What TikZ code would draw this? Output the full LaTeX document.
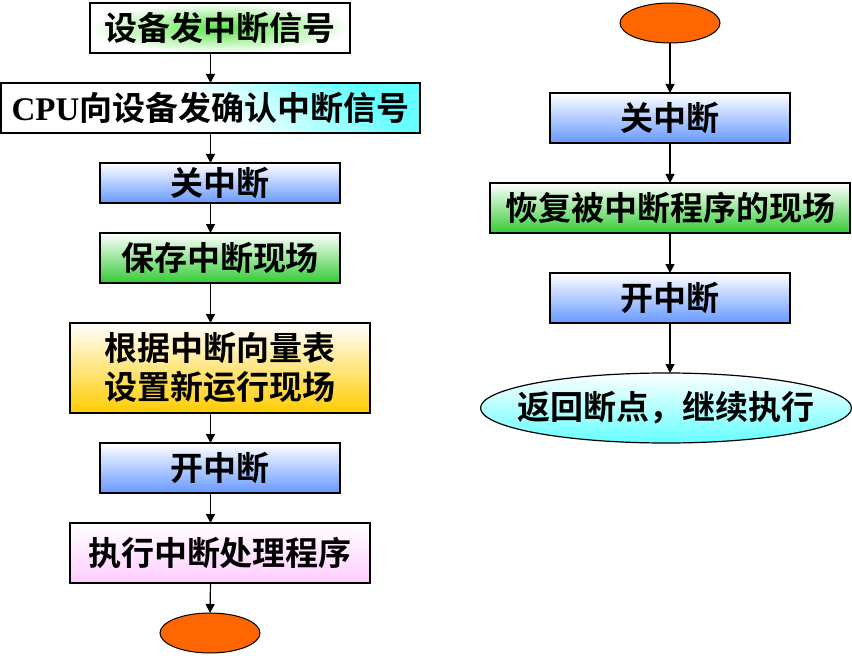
\documentclass[tikz,border=0pt]{standalone}
\usepackage{fontspec}
\setmainfont{Liberation Serif}
\newfontfamily\cjk{Noto Sans CJK SC}[BoldFont={Noto Sans CJK SC Bold}]
\usetikzlibrary{shapes.geometric, arrows.meta, positioning}
\usepackage{xcolor}
\definecolor{cBlue}{RGB}{102,153,255}
\definecolor{cGreen}{RGB}{51,204,51}
\definecolor{cGlow}{RGB}{90,230,70}
\definecolor{cCyan}{RGB}{102,255,255}
\definecolor{cYellow}{RGB}{255,204,0}
\definecolor{cPink}{RGB}{255,204,255}
\definecolor{cOrange}{RGB}{255,102,0}
\tikzset{
  basebox/.style={rectangle, draw=black, line width=1.2pt, inner sep=0pt,
                  outer sep=0pt, align=center,
                  font=\cjk\bfseries\fontsize{33}{39}\selectfont},
  glowbox/.style={basebox, inner color=cGlow, outer color=white},
  ackbox/.style={basebox, top color=cCyan, bottom color=white,
                 middle color=white, shading angle=-40},
  bluebox/.style={basebox, top color=white, bottom color=cBlue,
                  minimum width=240pt},
  greenbox/.style={basebox, top color=white, bottom color=cGreen},
  yellowbox/.style={basebox, top color=white, bottom color=cYellow},
  pinkbox/.style={basebox, top color=white, bottom color=cPink},
  endnode/.style={ellipse, draw=black, line width=1pt, fill=cOrange,
                  minimum width=100pt, minimum height=40pt, inner sep=0pt,
                  outer sep=0pt},
  retnode/.style={ellipse, draw=black, line width=1.2pt, top color=white,
                  bottom color=cCyan, minimum width=371pt, minimum height=70pt,
                  inner sep=0pt, outer sep=0pt,
                  font=\cjk\bfseries\fontsize{33}{39}\selectfont},
  arrow/.style={-{Triangle[length=9pt, width=9pt]}, line width=1.2pt}
}
\begin{document}
\begin{tikzpicture}[x=1pt, y=-1pt, node distance=30pt]
  \useasboundingbox (0,0) rectangle (852,658);

  \node[glowbox, minimum width=260pt, minimum height=50pt] (sig) at (220,28)
      {设备发中断信号};
  \node[ackbox, minimum width=419pt, minimum height=50pt, below=of sig,
        xshift=-9.5pt] (ack)
      {{\rmfamily CPU}向设备发确认中断信号};
  \node[bluebox, minimum height=40pt, below=of ack, xshift=9.5pt] (off1)
      {关中断};
  \node[greenbox, minimum width=240pt, minimum height=50pt, below=of off1] (save)
      {保存中断现场};
  \node[yellowbox, minimum width=300pt, minimum height=90pt, below=40pt of save] (vec)
      {根据中断向量表\\设置新运行现场};
  \node[bluebox, minimum height=50pt, below=of vec] (on1)
      {开中断};
  \node[pinkbox, minimum width=300pt, minimum height=60pt, below=of on1] (exec)
      {执行中断处理程序};
  \node[endnode, below=of exec, xshift=-10pt] (end1) {};

  \node[endnode] (start) at (670,23) {};
  \node[bluebox, minimum height=50pt, below=50pt of start] (off2)
      {关中断};
  \node[greenbox, minimum width=360pt, minimum height=50pt, below=40pt of off2] (rest)
      {恢复被中断程序的现场};
  \node[bluebox, minimum height=50pt, below=40pt of rest] (on2)
      {开中断};
  \node[retnode, below=50pt of on2, xshift=-4pt] (ret)
      {\makebox[0pt]{返回断点，继续执行}};

  \draw[arrow] (sig.south -| ack) -- (ack.north);
  \draw[arrow] (ack.south) -- (off1.north -| ack);
  \draw[arrow] (off1.south -| ack) -- (save.north -| ack);
  \draw[arrow] (save.south -| ack) -- (vec.north -| ack);
  \draw[arrow] (vec.south -| ack) -- (on1.north -| ack);
  \draw[arrow] (on1.south -| ack) -- (exec.north -| ack);
  \draw[arrow] (exec.south -| ack) -- (end1.north);

  \draw[arrow] (start.south) -- (off2.north);
  \draw[arrow] (off2.south) -- (rest.north);
  \draw[arrow] (rest.south) -- (on2.north);
  \draw[arrow] (on2.south) -- (ret.north -| on2);
\end{tikzpicture}
\end{document}
